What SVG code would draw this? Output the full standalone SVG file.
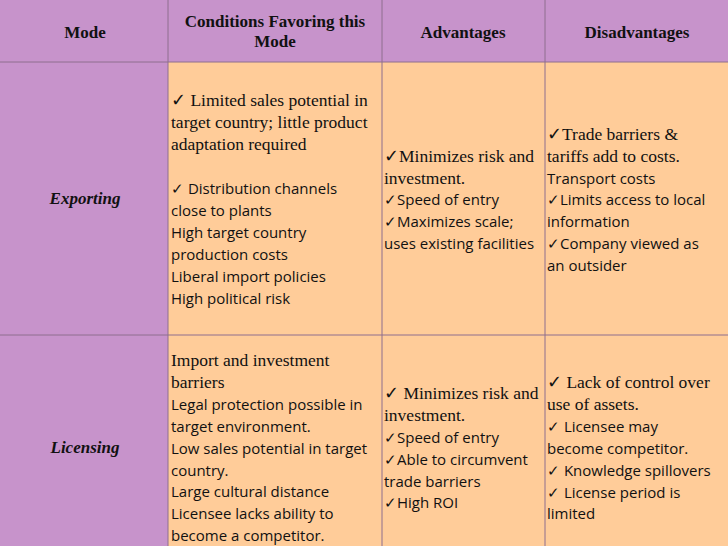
<svg xmlns="http://www.w3.org/2000/svg" width="728" height="546" viewBox="0 0 728 546">
<style>
.p{fill:#C793CB}.o{fill:#FFCC99}
.ln{stroke:#8E6E8E;stroke-width:1;fill:none}
.h{font-family:"Liberation Serif",serif;font-weight:bold;font-size:17px;fill:#111;text-anchor:middle}
.m{font-family:"Liberation Serif",serif;font-weight:bold;font-style:italic;font-size:17px;fill:#111;text-anchor:middle}
.s{font-family:"Liberation Serif",serif;font-size:17.5px;fill:#111}
.a{font-family:"Open Sans",sans-serif;font-size:15px;fill:#111}
</style>
<g id="cells">
<rect class="p" x="0" y="0" width="728" height="62"/>
<rect class="p" x="0" y="62" width="168" height="484"/>
<rect class="o" x="168" y="62" width="560" height="484"/>
</g>
<g id="grid">
<path class="ln" d="M0 62H728M0 335H728M168 0V546M382 0V546M545 0V546"/>
</g>
<g id="header">
<text class="h" x="85" y="38">Mode</text>
<text class="h" x="275" y="27">Conditions Favoring this</text>
<text class="h" x="275" y="47">Mode</text>
<text class="h" x="463" y="38">Advantages</text>
<text class="h" x="637" y="38">Disadvantages</text>
</g>
<g id="exporting">
<text class="m" x="85" y="204">Exporting</text>
<text class="s" x="171" y="106">✓ Limited sales potential in</text>
<text class="s" x="171" y="128">target country; little product</text>
<text class="s" x="171" y="150">adaptation required</text>
<text class="a" x="171" y="194">✓ Distribution channels</text>
<text class="a" x="171" y="216">close to plants</text>
<text class="a" x="171" y="238">High target country</text>
<text class="a" x="171" y="260">production costs</text>
<text class="a" x="171" y="282">Liberal import policies</text>
<text class="a" x="171" y="304">High political risk</text>
<text class="s" x="384" y="162">✓Minimizes risk and</text>
<text class="s" x="384" y="184">investment.</text>
<text class="a" x="384" y="205">✓Speed of entry</text>
<text class="a" x="384" y="227">✓Maximizes scale;</text>
<text class="a" x="384" y="249">uses existing facilities</text>
<text class="s" x="547" y="140">✓Trade barriers &amp;</text>
<text class="s" x="547" y="162">tariffs add to costs.</text>
<text class="a" x="547" y="184">Transport costs</text>
<text class="a" x="547" y="205">✓Limits access to local</text>
<text class="a" x="547" y="227">information</text>
<text class="a" x="547" y="249">✓Company viewed as</text>
<text class="a" x="547" y="271">an outsider</text>
</g>
<g id="licensing">
<text class="m" x="85" y="453">Licensing</text>
<text class="s" x="171" y="366">Import and investment</text>
<text class="s" x="171" y="388">barriers</text>
<text class="a" x="171" y="410">Legal protection possible in</text>
<text class="a" x="171" y="432">target environment.</text>
<text class="a" x="171" y="454">Low sales potential in target</text>
<text class="a" x="171" y="476">country.</text>
<text class="a" x="171" y="497">Large cultural distance</text>
<text class="a" x="171" y="519">Licensee lacks ability to</text>
<text class="a" x="171" y="541">become a competitor.</text>
<text class="s" x="384" y="399">✓ Minimizes risk and</text>
<text class="s" x="384" y="421">investment.</text>
<text class="a" x="384" y="443">✓Speed of entry</text>
<text class="a" x="384" y="465">✓Able to circumvent</text>
<text class="a" x="384" y="487">trade barriers</text>
<text class="a" x="384" y="508">✓High ROI</text>
<text class="s" x="547" y="388">✓ Lack of control over</text>
<text class="s" x="547" y="410">use of assets.</text>
<text class="a" x="547" y="432">✓ Licensee may</text>
<text class="a" x="547" y="454">become competitor.</text>
<text class="a" x="547" y="476">✓ Knowledge spillovers</text>
<text class="a" x="547" y="498">✓ License period is</text>
<text class="a" x="547" y="519">limited</text>
</g>
</svg>
